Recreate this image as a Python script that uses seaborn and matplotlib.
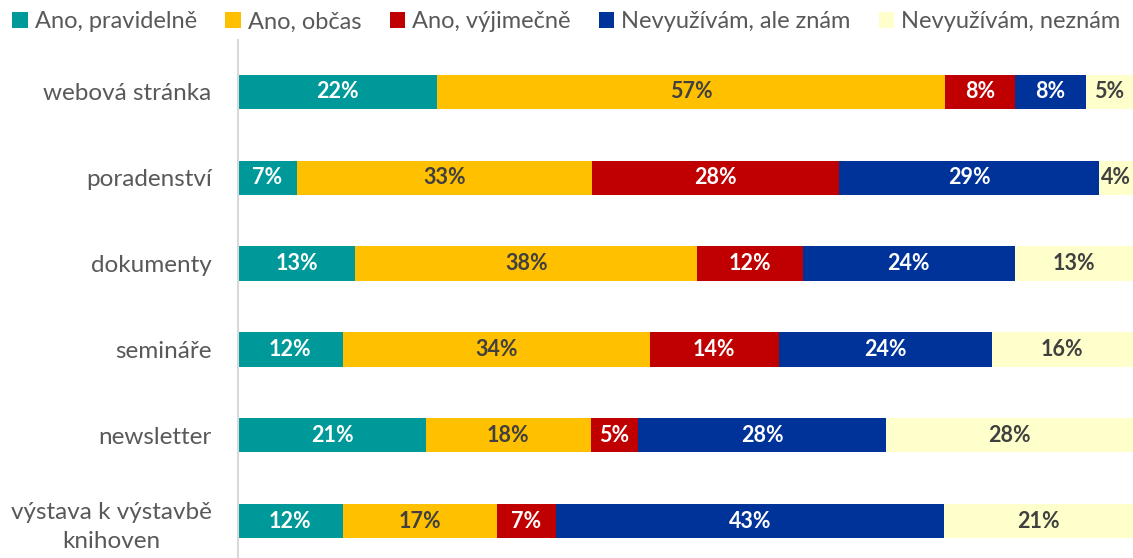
import seaborn as sns
import pandas as pd
import matplotlib.pyplot as plt
from matplotlib.patches import Patch

categories = ["webová stránka", "poradenství", "dokumenty", "semináře",
              "newsletter", "výstava k výstavbě\nknihoven"]
series = ["Ano, pravidelně", "Ano, občas", "Ano, výjimečně",
          "Nevyužívám, ale znám", "Nevyužívám, neznám"]

pravidelne = [22.2, 6.6, 13.1, 11.7, 21.0, 11.7]
obcas = [56.8, 33.0, 38.2, 34.3, 18.4, 17.2]
vyjimecne = [7.8, 27.6, 11.8, 14.4, 5.3, 6.6]
znam = [7.9, 29.0, 23.7, 23.8, 27.7, 43.4]
neznam = [5.3, 3.8, 13.2, 15.8, 27.6, 21.1]

colors = ["#009999", "#FFC000", "#C00000", "#003399", "#FFFFCC"]
text_colors = ["white", "#404040", "white", "white", "#404040"]

df = pd.DataFrame({"kat": categories, series[0]: pravidelne, series[1]: obcas,
                   series[2]: vyjimecne, series[3]: znam, series[4]: neznam})
cum = df[series].cumsum(axis=1)

sns.set_style("white")
plt.rcParams["font.family"] = ["Lato", "DejaVu Sans"]

fig = plt.figure(figsize=(11.33, 5.58), dpi=100)
ax = fig.add_axes([238 / 1133, 0, 895 / 1133, (558 - 40) / 558])

# stacked bars: draw the cumulative totals from the longest to the shortest
for s, c in reversed(list(zip(series, colors))):
    sns.barplot(x=cum[s], y=df["kat"], color=c, orient="h", width=0.4,
                ax=ax, saturation=1, linewidth=0)

for i in range(len(categories)):
    left = 0
    for s, tc in zip(series, text_colors):
        v = df.loc[i, s]
        ax.text(left + v / 2, i, "%.0f%%" % v, ha="center", va="center",
                color=tc, fontsize=15.5, fontweight="bold")
        left += v

ax.set_xlim(0, 100)
ax.set_ylim(5 + 37 / 85.8, -52 / 85.8)
ax.set_xlabel("")
ax.set_ylabel("")
ax.set_xticks([])
ax.tick_params(axis="y", length=0, pad=19, labelsize=17.5, labelcolor="#595959")
for lab in ax.get_yticklabels():
    lab.set_multialignment("center")
    lab.set_linespacing(1.5)
for side in ["top", "right", "bottom"]:
    ax.spines[side].set_visible(False)
ax.spines["left"].set_color("#D9D9D9")
ax.spines["left"].set_linewidth(1.5)

handles = [Patch(facecolor=c, edgecolor="none") for c in colors]
fig.legend(handles, series, loc="center", bbox_to_anchor=(0.5, 1 - 22 / 558),
           ncol=5, frameon=False, fontsize=17, labelcolor="#595959",
           handlelength=0.65, handleheight=0.65, handletextpad=0.3,
           columnspacing=1.2)

fig.savefig("out.png", dpi=100)
